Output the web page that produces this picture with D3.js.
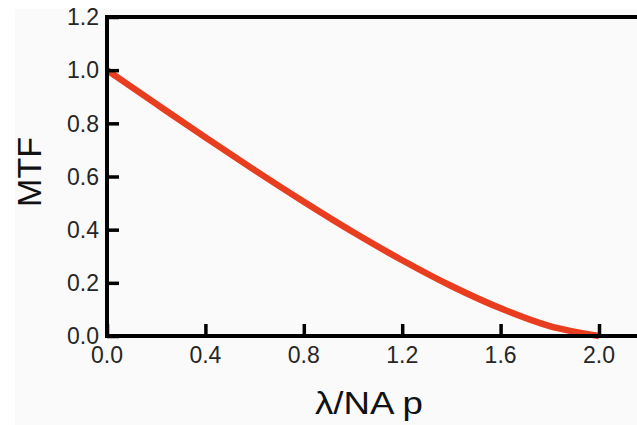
<!DOCTYPE html>
<html>
<head>
<meta charset="utf-8">
<script src="https://cdn.jsdelivr.net/npm/d3@7/dist/d3.min.js"></script>
<style>
  html, body { margin: 0; padding: 0; background: #fff; }
  svg { display: block; }
</style>
</head>
<body>
<script>
// values
const freq = [0, 0.2, 0.4, 0.6, 0.8, 1.0, 1.2, 1.4, 1.6, 1.8, 2.0];
const mtf  = [1.0, 0.873, 0.747, 0.624, 0.505, 0.391, 0.285, 0.188, 0.104, 0.037, 0.0];
const xTicks = [0, 0.4, 0.8, 1.2, 1.6, 2.0];
const yTicks = [0, 0.2, 0.4, 0.6, 0.8, 1.0, 1.2];

const width = 637, height = 425;
const font = "'Liberation Sans', Arial, Helvetica, sans-serif";

const svg = d3.select("body").append("svg")
  .attr("width", width)
  .attr("height", height);

// off-white panel like the scanned figure
svg.append("rect")
  .attr("x", 15).attr("y", 9)
  .attr("width", width - 15).attr("height", height - 9)
  .attr("fill", "#fafafa");

const x = d3.scaleLinear().domain([0, 2]).range([107, 599]);
const y = d3.scaleLinear().domain([0, 1.2]).range([336, 17]);

const data = freq.map((f, i) => ({ f, m: mtf[i] }));

// curve
svg.append("path")
  .datum(data)
  .attr("fill", "none")
  .attr("stroke", "#e83e1f")
  .attr("stroke-width", 6.5)
  .attr("d", d3.line()
    .x(d => x(d.f))
    .y(d => y(d.m))
    .curve(d3.curveCatmullRom));

// frame: left, bottom, top (right side runs off the picture)
const frame = svg.append("g").attr("stroke", "#000").attr("stroke-width", 4);
frame.append("line").attr("x1", x(0)).attr("x2", x(0)).attr("y1", y(1.2) - 2).attr("y2", y(0) + 2);
frame.append("line").attr("x1", x(0) - 2).attr("x2", width).attr("y1", y(0)).attr("y2", y(0));
frame.append("line").attr("x1", x(0) - 2).attr("x2", width).attr("y1", y(1.2)).attr("y2", y(1.2));

// y axis: inward ticks, labels on the left
const yAxis = svg.append("g")
  .attr("transform", `translate(${x(0)},0)`)
  .call(d3.axisRight(y).tickValues(yTicks).tickSize(12).tickFormat(""));
yAxis.select(".domain").remove();
yAxis.selectAll(".tick line").attr("stroke", "#000").attr("stroke-width", 3.5);

svg.append("g").selectAll("text")
  .data(yTicks)
  .join("text")
  .attr("x", 99)
  .attr("y", d => y(d))
  .attr("dy", "0.36em")
  .attr("text-anchor", "end")
  .attr("font-family", font)
  .attr("font-size", 23)
  .attr("fill", "#262626")
  .text(d3.format(".1f"));

// x axis: inward (upward) ticks, labels below
const xAxis = svg.append("g")
  .attr("transform", `translate(0,${y(0)})`)
  .call(d3.axisTop(x).tickValues(xTicks).tickSize(12).tickFormat(""));
xAxis.select(".domain").remove();
xAxis.selectAll(".tick line").attr("stroke", "#000").attr("stroke-width", 3.5);

svg.append("g").selectAll("text")
  .data(xTicks)
  .join("text")
  .attr("x", d => x(d))
  .attr("y", 363)
  .attr("text-anchor", "middle")
  .attr("font-family", font)
  .attr("font-size", 23)
  .attr("fill", "#262626")
  .text(d3.format(".1f"));

// axis titles
svg.append("text")
  .attr("transform", "translate(41,172) rotate(-90)")
  .attr("text-anchor", "middle")
  .attr("font-family", font)
  .attr("font-size", 34)
  .attr("fill", "#111")
  .text("MTF");

svg.append("text")
  .attr("x", 315)
  .attr("y", 414)
  .attr("font-family", font)
  .attr("font-size", 31)
  .attr("fill", "#111")
  .attr("textLength", 108)
  .attr("lengthAdjust", "spacingAndGlyphs")
  .text("λ/NA p");
</script>
</body>
</html>
